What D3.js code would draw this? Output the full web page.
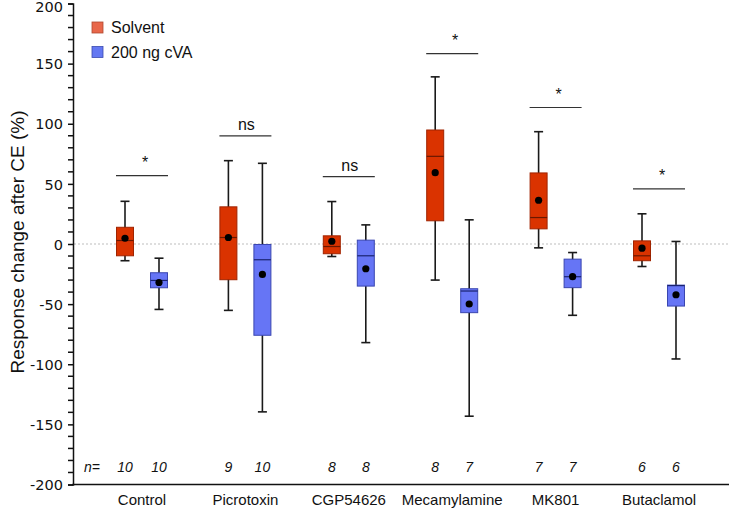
<!DOCTYPE html>
<html>
<head>
<meta charset="utf-8">
<script src="https://cdn.jsdelivr.net/npm/d3@7"></script>
<style>
  html, body { margin: 0; padding: 0; background: #fff; }
  svg { display: block; }
  text { font-family: "Liberation Sans", Arial, Helvetica, sans-serif; fill: #111; }
</style>
</head>
<body>
<script>
// ---------------- data ----------------
const groups = ["Control", "Picrotoxin", "CGP54626", "Mecamylamine", "MK801", "Butaclamol"];
const seriesNames = ["Solvent", "200 ng cVA"];

const solventWhiskerLow  = [-13.9, -55.2, -10.4, -30.0,  -3.2, -18.7];
const solventQ1          = [ -9.8, -29.7,  -8.1,  19.3,  12.6, -13.9];
const solventMedian      = [  2.9,   5.4,  -2.1,  72.9,  22.0,  -9.8];
const solventQ3          = [ 13.9,  30.9,   6.8,  94.8,  59.1,   2.6];
const solventWhiskerHigh = [ 35.5,  69.3,  35.3, 139.0,  93.4,  25.1];
const solventMean        = [  4.8,   5.4,   2.3,  59.3,  36.4,  -3.5];

const cvaWhiskerLow  = [-54.4, -139.6, -82.0, -143.2, -59.3, -95.6];
const cvaQ1          = [-36.4,  -75.9, -35.0,  -57.1, -36.3, -51.6];
const cvaMedian      = [-30.3,  -13.1,  -9.8,  -39.1, -27.2, -34.6];
const cvaQ3          = [-23.9,   -0.4,   3.2,  -37.2, -12.6, -34.2];
const cvaWhiskerHigh = [-11.8,   67.1,  15.9,   20.1,  -7.1,   2.1];
const cvaMean        = [-32.0,  -25.3, -20.6,  -49.9, -27.2, -42.2];

const nSolvent = [10, 9, 8, 8, 7, 6];
const nCva     = [10, 10, 8, 7, 7, 6];

const sigLabels  = ["*", "ns", "ns", "*", "*", "*"];
const sigHeights = [56.8, 90, 56, 158.3, 113.5, 45.8];

const yTicks = [-200, -150, -100, -50, 0, 50, 100, 150, 200];

// ---------------- layout ----------------
const W = 729, H = 517;
const colors = {
  "Solvent":    { fill: "#da3300", stroke: "#a02400", median: "#6a1800", legend: "#e8674a", legendStroke: "#b04a30" },
  "200 ng cVA": { fill: "#6675f5", stroke: "#3a46b0", median: "#1a2370", legend: "#6478f2", legendStroke: "#3a4ab0" }
};

const svg = d3.select("body").append("svg").attr("width", W).attr("height", H);

const y = d3.scaleLinear().domain([-200, 200]).range([484.5, 3.5]);
const x = d3.scalePoint().domain(groups).range([142, 659]);
const sub = d3.scalePoint().domain(seriesNames).range([-17, 17]);
const boxW = 17, capW = 9;

// zero dashed line
svg.append("line")
  .attr("x1", 74).attr("x2", W)
  .attr("y1", y(0)).attr("y2", y(0))
  .attr("stroke", "#bdbdbd").attr("stroke-width", 1).attr("stroke-dasharray", "2,2");

// y axis
const axisX = 73;
const yAxis = d3.axisLeft(y).tickValues(yTicks).tickSize(5).tickPadding(5).tickFormat(d => String(d));
const gy = svg.append("g").attr("transform", `translate(${axisX},0)`).call(yAxis);
gy.select(".domain").attr("stroke", "#111").attr("stroke-width", 1.5);
gy.selectAll(".tick line").attr("stroke", "#111").attr("stroke-width", 1.5);
gy.selectAll(".tick text").style("font-size", "14.5px").attr("fill", "#111")
  .style("font-family", "'DejaVu Sans', 'Liberation Sans', Arial, sans-serif")
  .attr("dy", d => d === 200 ? "0.56em" : "0.36em");
// minor ticks
const minor = d3.range(-190, 200, 10).filter(v => v % 50 !== 0);
gy.selectAll(".minor").data(minor).enter().append("line")
  .attr("x1", -5).attr("x2", 0)
  .attr("y1", d => y(d)).attr("y2", d => y(d))
  .attr("stroke", "#111").attr("stroke-width", 1.5);

// x axis baseline
svg.append("line").attr("x1", axisX - 0.75).attr("x2", W).attr("y1", y(-200)).attr("y2", y(-200))
  .attr("stroke", "#111").attr("stroke-width", 1.5);

// y axis title
svg.append("text")
  .attr("transform", `translate(24,${(y(-200) + y(200)) / 2 - 2}) rotate(-90)`)
  .attr("text-anchor", "middle")
  .style("font-size", "19px")
  .text("Response change after CE (%)");

// ---------------- boxes ----------------
const rows = [];
groups.forEach((g, i) => {
  rows.push({ g, s: "Solvent", lo: solventWhiskerLow[i], q1: solventQ1[i], med: solventMedian[i], q3: solventQ3[i], hi: solventWhiskerHigh[i], mean: solventMean[i], n: nSolvent[i] });
  rows.push({ g, s: "200 ng cVA", lo: cvaWhiskerLow[i], q1: cvaQ1[i], med: cvaMedian[i], q3: cvaQ3[i], hi: cvaWhiskerHigh[i], mean: cvaMean[i], n: nCva[i] });
});

const bg = svg.selectAll(".box").data(rows).enter().append("g")
  .attr("transform", d => `translate(${x(d.g) + sub(d.s)},0)`);

// whiskers
bg.append("line").attr("x1", 0).attr("x2", 0).attr("y1", d => y(d.hi)).attr("y2", d => y(d.lo))
  .attr("stroke", "#1a1a1a").attr("stroke-width", 1.6);
bg.append("line").attr("x1", -capW / 2).attr("x2", capW / 2).attr("y1", d => y(d.hi)).attr("y2", d => y(d.hi))
  .attr("stroke", "#1a1a1a").attr("stroke-width", 1.6);
bg.append("line").attr("x1", -capW / 2).attr("x2", capW / 2).attr("y1", d => y(d.lo)).attr("y2", d => y(d.lo))
  .attr("stroke", "#1a1a1a").attr("stroke-width", 1.6);
// box
bg.append("rect")
  .attr("x", -boxW / 2).attr("width", boxW)
  .attr("y", d => y(d.q3)).attr("height", d => Math.max(1, y(d.q1) - y(d.q3)))
  .attr("fill", d => colors[d.s].fill).attr("stroke", d => colors[d.s].stroke).attr("stroke-width", 1);
// median
bg.append("line").attr("x1", -boxW / 2).attr("x2", boxW / 2).attr("y1", d => y(d.med)).attr("y2", d => y(d.med))
  .attr("stroke", d => colors[d.s].median).attr("stroke-width", 1.2);
// mean
bg.append("circle").attr("cx", 0).attr("cy", d => y(d.mean)).attr("r", 3.6).attr("fill", "#000");

// n labels
svg.append("text").attr("x", 84).attr("y", 472).style("font-size", "14px").style("font-style", "italic").text("n=");
svg.selectAll(".nlab").data(rows).enter().append("text")
  .attr("x", d => x(d.g) + sub(d.s)).attr("y", 472)
  .attr("text-anchor", "middle").style("font-size", "14px").style("font-style", "italic")
  .text(d => d.n);

// group labels
svg.selectAll(".glab").data(groups).enter().append("text")
  .attr("x", d => x(d)).attr("y", 505)
  .attr("text-anchor", "middle").style("font-size", "15px")
  .text(d => d);

// significance
groups.forEach((g, i) => {
  const yy = y(sigHeights[i]);
  svg.append("line").attr("x1", x(g) - 26).attr("x2", x(g) + 26).attr("y1", yy).attr("y2", yy)
    .attr("stroke", "#333").attr("stroke-width", 1.2);
  svg.append("text").attr("x", x(g) + (sigLabels[i] === "*" ? 3 : 1))
    .attr("y", sigLabels[i] === "*" ? yy - 8 : yy - 6)
    .attr("text-anchor", "middle").style("font-size", "16px")
    .text(sigLabels[i]);
});

// legend
const lg = svg.append("g");
seriesNames.forEach((s, i) => {
  lg.append("rect").attr("x", 92).attr("y", 22 + i * 24.5).attr("width", 11).attr("height", 11)
    .attr("fill", colors[s].legend).attr("stroke", colors[s].legendStroke).attr("stroke-width", 0.8);
  lg.append("text").attr("x", 111).attr("y", 33 + i * 24.5).style("font-size", "16px").text(s);
});
</script>
</body>
</html>
